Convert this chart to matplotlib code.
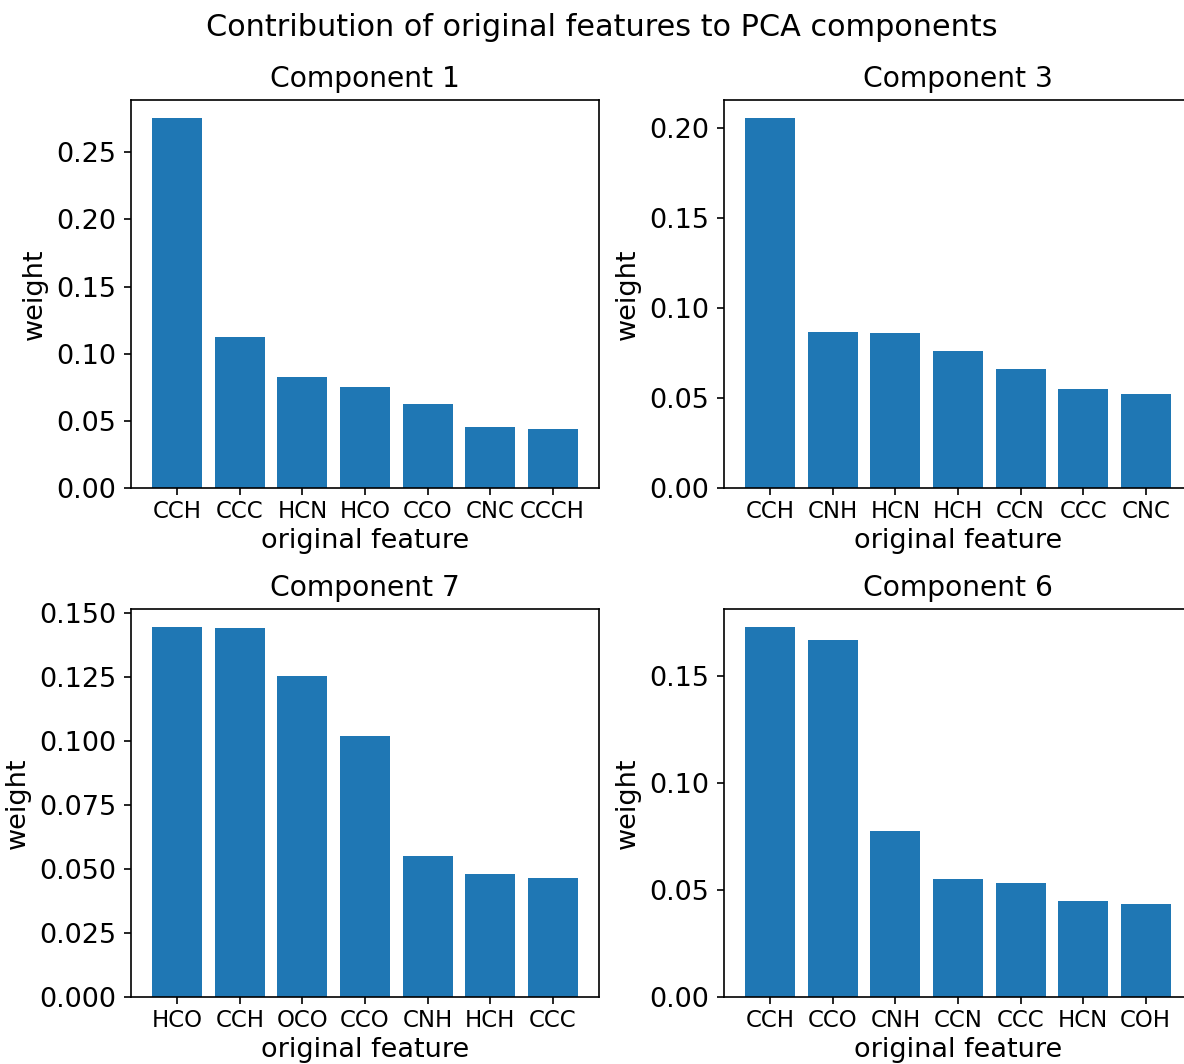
import matplotlib
matplotlib.use('Agg')
import matplotlib.pyplot as plt
from matplotlib.ticker import MultipleLocator

# pesos das features originais em cada componente
comp1_labels = ['CCH', 'CCC', 'HCN', 'HCO', 'CCO', 'CNC', 'CCCH']
comp1_values = [0.2753, 0.1124, 0.0826, 0.0751, 0.0625, 0.0454, 0.0439]

comp3_labels = ['CCH', 'CNH', 'HCN', 'HCH', 'CCN', 'CCC', 'CNC']
comp3_values = [0.2056, 0.0867, 0.0861, 0.0761, 0.0661, 0.0550, 0.0522]

comp7_labels = ['HCO', 'CCH', 'OCO', 'CCO', 'CNH', 'HCH', 'CCC']
comp7_values = [0.1442, 0.1438, 0.1251, 0.1017, 0.0549, 0.0479, 0.0464]

comp6_labels = ['CCH', 'CCO', 'CNH', 'CCN', 'CCC', 'HCN', 'COH']
comp6_values = [0.1729, 0.1668, 0.0776, 0.0551, 0.0533, 0.0449, 0.0435]

titles = ['Component 1', 'Component 3', 'Component 7', 'Component 6']
all_labels = [comp1_labels, comp3_labels, comp7_labels, comp6_labels]
all_values = [comp1_values, comp3_values, comp7_values, comp6_values]
tick_steps = [0.05, 0.05, 0.025, 0.05]

fig = plt.figure(figsize=(1184 / 150, 1064 / 150), dpi=150)

# posicoes dos eixos (o lado direito sai da figura como no original)
boxes = [
    [0.1106, 0.5414, 0.3953, 0.3647],
    [0.6115, 0.5414, 0.3953, 0.3647],
    [0.1106, 0.0630, 0.3953, 0.3647],
    [0.6115, 0.0630, 0.3953, 0.3647],
]

for box, title, labels, values, step in zip(boxes, titles, all_labels, all_values, tick_steps):
    ax = fig.add_axes(box)
    ax.bar(labels, values, color='#1f77b4')
    ax.set_title(title, fontsize=13.5)
    ax.set_xlabel('original feature', fontsize=13, labelpad=2)
    ax.set_ylabel('weight', fontsize=13)
    ax.yaxis.set_major_locator(MultipleLocator(step))
    ax.tick_params(axis='y', labelsize=13)
    ax.tick_params(axis='x', labelsize=11, pad=2.5)

fig.suptitle('Contribution of original features to PCA components', fontsize=14.5, x=0.508, y=0.988)

fig.savefig('out.png', dpi=150)
